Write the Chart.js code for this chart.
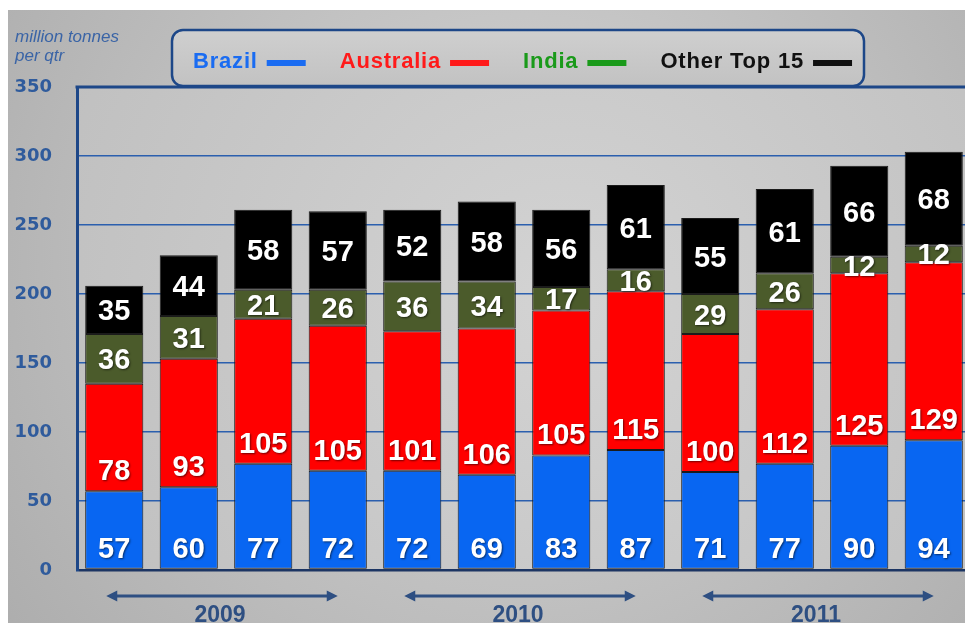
<!DOCTYPE html>
<html>
<head>
<meta charset="utf-8">
<script src="https://cdn.jsdelivr.net/npm/chart.js@4/dist/chart.umd.min.js"></script>
<style>
  html, body { margin: 0; padding: 0; background: #fff; overflow: hidden; width: 965px; height: 623px; }
  #wrap { position: absolute; left: 0; top: 0; width: 980px; height: 623px; }
</style>
</head>
<body>
<div id="wrap"><canvas id="c" width="980" height="623"></canvas></div>
<script>
// Quarterly iron ore exports, million tonnes per quarter
const quarters = ['Q1 2009', 'Q2 2009', 'Q3 2009', 'Q4 2009',
                  'Q1 2010', 'Q2 2010', 'Q3 2010', 'Q4 2010',
                  'Q1 2011', 'Q2 2011', 'Q3 2011', 'Q4 2011'];
const brazil     = [57, 60, 77, 72, 72, 69, 83, 87, 71, 77, 90, 94];
const australia  = [78, 93, 105, 105, 101, 106, 105, 115, 100, 112, 125, 129];
const india      = [36, 31, 21, 26, 36, 34, 17, 16, 29, 26, 12, 12];
const otherTop15 = [35, 44, 58, 57, 52, 58, 56, 61, 55, 61, 66, 68];
const seriesNames = ['Brazil', 'Australia', 'India', 'Other Top 15'];
const years = ['2009', '2010', '2011'];
const yearFirstQuarter = [0, 4, 8];
const yearLastQuarter = [3, 7, 11];
const unitLines = ['million tonnes', 'per qtr'];
const yMin = 0, yMax = 350, yStep = 50;

const NAVY = '#1d4788';
const BAR_FILL = ['#0866f2', '#ff0000', '#4b5b2b', '#000000'];
const KEY_COLOR = ['#1a6cf2', '#ff1a1a', '#1a9a1a', '#111111'];

// Background, plot panel and frame
const backdrop = {
  id: 'backdrop',
  beforeDraw(chart) {
    const { ctx, chartArea: a, width, height } = chart;
    ctx.save();
    ctx.fillStyle = '#ffffff';
    ctx.fillRect(0, 0, width, height);
    const g = ctx.createRadialGradient(520, 260, 40, 520, 260, 700);
    g.addColorStop(0, '#d3d3d3');
    g.addColorStop(1, '#a9a9a9');
    ctx.fillStyle = g;
    ctx.fillRect(8, 10, width - 8, height - 10);
    const p = ctx.createRadialGradient(560, 300, 30, 560, 300, 650);
    p.addColorStop(0, '#d2d2d2');
    p.addColorStop(1, '#bcbcbc');
    ctx.fillStyle = p;
    ctx.fillRect(a.left, a.top, width - a.left, a.bottom - a.top);
    ctx.restore();
  },
  afterDraw(chart) {
    const { ctx, chartArea: a, width } = chart;
    ctx.save();
    ctx.strokeStyle = NAVY;
    ctx.lineWidth = 3;
    ctx.beginPath();
    ctx.moveTo(a.left - 1.5, a.top);
    ctx.lineTo(width, a.top);
    ctx.stroke();
    ctx.restore();
  }
};

// Value labels written inside each bar segment
const segmentLabels = {
  id: 'segmentLabels',
  afterDatasetsDraw(chart) {
    const { ctx } = chart;
    ctx.save();
    ctx.font = 'bold 29px "Liberation Sans", Arial, sans-serif';
    ctx.textAlign = 'center';
    ctx.textBaseline = 'alphabetic';
    ctx.fillStyle = '#ffffff';
    ctx.shadowColor = 'rgba(0,0,0,0.55)';
    ctx.shadowBlur = 2;
    ctx.shadowOffsetX = 1;
    ctx.shadowOffsetY = 1;
    chart.data.datasets.forEach((ds, i) => {
      const meta = chart.getDatasetMeta(i);
      meta.data.forEach((bar, j) => {
        const top = Math.min(bar.y, bar.base);
        const bottom = Math.max(bar.y, bar.base);
        const baseline = i < 2 ? bottom - 11 : (top + bottom) / 2 + 10.5;
        ctx.fillText(String(ds.data[j]), bar.x, baseline);
      });
    });
    ctx.restore();
  }
};

// Unit caption, key box and year spans
const annotations = {
  id: 'annotations',
  afterDraw(chart) {
    const { ctx, scales } = chart;
    const x = scales.x;
    ctx.save();

    // unit caption
    ctx.fillStyle = '#3a64a6';
    ctx.font = 'italic 17px "Liberation Sans", Arial, sans-serif';
    ctx.textAlign = 'left';
    ctx.textBaseline = 'alphabetic';
    ctx.fillText(unitLines[0], 15, 42);
    ctx.fillText(unitLines[1], 15, 61);

    // key box
    const bx = 172, by = 30, bw = 692, bh = 56, r = 11;
    const kg = ctx.createLinearGradient(0, by, 0, by + bh);
    kg.addColorStop(0, '#cfcfcf');
    kg.addColorStop(1, '#c2c2c2');
    ctx.fillStyle = kg;
    ctx.beginPath();
    ctx.roundRect(bx, by, bw, bh, r);
    ctx.fill();
    ctx.strokeStyle = NAVY;
    ctx.lineWidth = 2.5;
    ctx.stroke();

    ctx.font = 'bold 22px "Liberation Sans", Arial, sans-serif';
    ctx.letterSpacing = '0.8px';
    let cx = 193;
    seriesNames.forEach((name, i) => {
      ctx.fillStyle = KEY_COLOR[i];
      ctx.fillText(name, cx, 68);
      cx += ctx.measureText(name).width + 9;
      ctx.fillRect(cx, 60, 39, 6);
      cx += 39 + 34;
    });
    ctx.letterSpacing = '0px';

    // year spans with double arrows
    ctx.strokeStyle = '#2e4f82';
    ctx.fillStyle = '#2e4f82';
    ctx.lineWidth = 3;
    ctx.font = 'bold 23px "Liberation Sans", Arial, sans-serif';
    ctx.textAlign = 'center';
    years.forEach((yr, k) => {
      const x0 = x.getPixelForValue(yearFirstQuarter[k]) - 8;
      const x1 = x.getPixelForValue(yearLastQuarter[k]);
      const ay = 596;
      ctx.beginPath();
      ctx.moveTo(x0 + 6, ay);
      ctx.lineTo(x1 - 6, ay);
      ctx.stroke();
      ctx.beginPath();
      ctx.moveTo(x0, ay); ctx.lineTo(x0 + 11, ay - 5.5); ctx.lineTo(x0 + 11, ay + 5.5); ctx.closePath();
      ctx.fill();
      ctx.beginPath();
      ctx.moveTo(x1, ay); ctx.lineTo(x1 - 11, ay - 5.5); ctx.lineTo(x1 - 11, ay + 5.5); ctx.closePath();
      ctx.fill();
      ctx.fillText(yr, (x0 + x1) / 2 - 2, 622);
    });
    ctx.restore();
  }
};

const seriesValues = [brazil, australia, india, otherTop15];

new Chart(document.getElementById('c'), {
  type: 'bar',
  data: {
    labels: quarters,
    datasets: seriesValues.map((vals, i) => ({
      label: seriesNames[i],
      data: vals,
      backgroundColor: BAR_FILL[i],
      borderColor: '#1b1b1b',
      borderWidth: 1,
      borderSkipped: false,
      barPercentage: 0.78,
      categoryPercentage: 1.0
    }))
  },
  options: {
    responsive: false,
    animation: false,
    devicePixelRatio: 1,
    layout: { padding: { left: 0, top: 87, right: 9, bottom: 53 } },
    plugins: {
      legend: { display: false },
      title: { display: false },
      tooltip: { enabled: false }
    },
    scales: {
      x: {
        stacked: true,
        display: false
      },
      y: {
        stacked: true,
        min: yMin,
        max: yMax,
        ticks: {
          stepSize: yStep,
          padding: 25,
          color: '#2f5b9c',
          font: { family: '"DejaVu Sans", sans-serif', size: 18, weight: 'bold' }
        },
        grid: {
          drawTicks: false,
          color: ctx => ctx.tick && ctx.tick.value === 0 ? '#1c3563' : '#2b5fae',
          lineWidth: ctx => ctx.tick && ctx.tick.value === 0 ? 2.5 : 1.5
        },
        border: { display: true, color: NAVY, width: 3 },
        afterFit: scale => { scale.width = 77; }
      }
    }
  },
  plugins: [backdrop, segmentLabels, annotations]
});
</script>
</body>
</html>
